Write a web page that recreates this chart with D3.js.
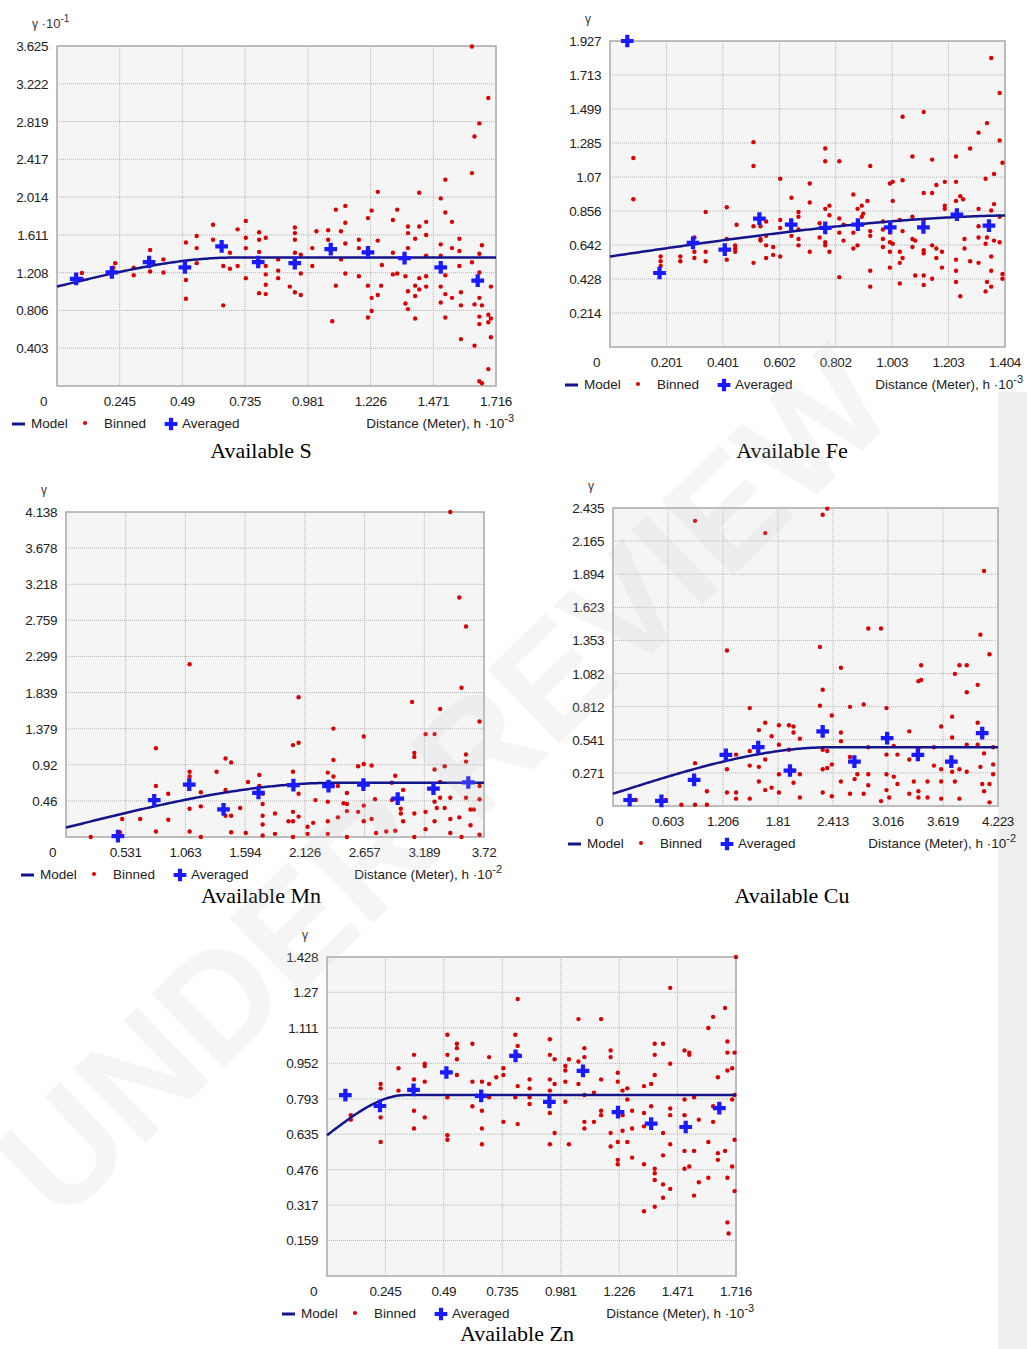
<!DOCTYPE html>
<html>
<head>
<meta charset="utf-8">
<script src="https://cdn.jsdelivr.net/npm/d3@7/dist/d3.min.js"></script>
<style>
body { margin: 0; background: #fff; }
svg text { font-family: "Liberation Sans", Arial, sans-serif; }
svg text.title { font-family: "Liberation Serif", "Times New Roman", serif; }
</style>
</head>
<body>
<svg id="chart" width="1027" height="1349"></svg>
<script>
// S panel (gamma x 10^-1)
var sTicks = ["0.403","0.806","1.208","1.611","2.014","2.417","2.819","3.222","3.625"];
var sXTicks = ["0.245","0.49","0.735","0.981","1.226","1.471","1.716"];
var sAveraged = [[0.075,1.141],[0.2145,1.212],[0.36,1.322],[0.50,1.265],[0.6435,1.488],[0.7865,1.322],[0.9295,1.311],[1.07,1.46],[1.2155,1.425],[1.3585,1.364],[1.50,1.265],[1.6445,1.123]];
var sBinned = [[0.0975,1.205],[0.0975,1.14],[0.2275,1.31],[0.22,1.26],[0.30,1.26],[0.30,1.18],[0.364,1.45],[0.364,1.22],[0.416,1.35],[0.416,1.21],[0.504,1.53],[0.504,1.13],[0.504,0.93],[0.546,1.60],[0.546,1.47],[0.546,1.31],[0.61,1.72],[0.61,1.56],[0.65,0.86],[0.65,1.28],[0.676,1.42],[0.676,1.25],[0.706,1.67],[0.706,1.28],[0.738,1.76],[0.738,1.58],[0.738,1.47],[0.738,1.15],[0.79,1.64],[0.79,1.56],[0.79,1.43],[0.816,1.58],[0.816,1.28],[0.816,1.19],[0.816,1.08],[0.79,0.99],[0.816,0.98],[0.8645,1.35],[0.8645,1.23],[0.8645,1.15],[0.91,1.06],[0.93,1.69],[0.93,1.63],[0.93,1.56],[0.93,1.42],[0.93,1.0],[0.953,0.97],[0.953,1.40],[0.953,1.20],[0.998,1.28],[0.998,1.47],[1.014,1.65],[1.06,1.66],[1.06,1.56],[1.076,0.69],[1.09,1.88],[1.09,1.07],[1.11,1.65],[1.11,1.35],[1.127,1.92],[1.127,1.74],[1.127,1.52],[1.127,1.20],[1.18,1.56],[1.18,1.47],[1.18,1.17],[1.2155,1.79],[1.2155,1.07],[1.2155,0.73],[1.23,1.87],[1.23,0.80],[1.23,0.94],[1.254,2.07],[1.254,1.55],[1.267,1.07],[1.254,0.97],[1.27,1.29],[1.313,1.77],[1.313,1.42],[1.313,1.19],[1.33,1.88],[1.33,1.20],[1.372,1.70],[1.372,1.63],[1.372,1.47],[1.362,1.17],[1.372,1.01],[1.362,0.88],[1.372,0.82],[1.40,1.57],[1.40,1.07],[1.40,0.72],[1.416,2.06],[1.416,1.70],[1.416,1.15],[1.416,1.03],[1.40,0.96],[1.443,1.75],[1.443,1.61],[1.443,1.39],[1.443,1.17],[1.443,1.06],[1.50,2.00],[1.518,2.20],[1.518,1.85],[1.50,1.51],[1.50,1.39],[1.50,1.06],[1.50,0.89],[1.518,1.18],[1.518,0.98],[1.518,0.73],[1.544,1.75],[1.544,1.47],[1.544,0.94],[1.573,1.57],[1.573,1.44],[1.573,1.28],[1.579,1.00],[1.579,0.86],[1.579,0.50],[1.622,3.62],[1.632,2.66],[1.651,2.80],[1.622,2.27],[1.622,1.32],[1.632,0.87],[1.632,0.43],[1.651,1.41],[1.651,1.21],[1.651,0.94],[1.651,0.74],[1.651,0.66],[1.651,0.05],[1.661,0.03],[1.661,1.50],[1.661,0.86],[1.686,3.07],[1.686,0.18],[1.686,0.76],[1.686,0.68],[1.696,1.06],[1.696,0.52],[1.696,0.72]];
var sModel = {nugget: 1.06, sill: 0.31, range: 0.7};

// Fe panel
var feTicks = ["0.214","0.428","0.642","0.856","1.07","1.285","1.499","1.713","1.927"];
var feXTicks = ["0.201","0.401","0.602","0.802","1.003","1.203","1.404"];
var feAveraged = [[0.0615,1.927],[0.176,0.466],[0.295,0.655],[0.408,0.613],[0.531,0.809],[0.644,0.771],[0.765,0.75],[0.881,0.771],[0.996,0.754],[1.114,0.754],[1.233,0.834],[1.347,0.764]];
var feBinned = [[0.083,1.19],[0.083,0.93],[0.18,0.57],[0.18,0.54],[0.18,0.51],[0.25,0.57],[0.25,0.54],[0.3,0.69],[0.3,0.6],[0.3,0.56],[0.34,0.85],[0.34,0.6],[0.34,0.54],[0.415,0.88],[0.415,0.68],[0.415,0.55],[0.445,0.64],[0.445,0.6],[0.445,0.62],[0.45,0.77],[0.51,1.29],[0.51,1.14],[0.51,0.76],[0.51,0.53],[0.535,0.76],[0.535,0.68],[0.535,0.67],[0.555,0.79],[0.555,0.7],[0.555,0.64],[0.555,0.56],[0.58,0.63],[0.58,0.58],[0.605,1.06],[0.605,0.8],[0.605,0.75],[0.605,0.57],[0.645,0.94],[0.645,0.7],[0.67,0.85],[0.67,0.82],[0.67,0.74],[0.67,0.68],[0.67,0.64],[0.71,1.03],[0.71,0.91],[0.71,0.6],[0.745,0.78],[0.745,0.69],[0.765,1.25],[0.765,1.17],[0.765,0.87],[0.765,0.66],[0.765,0.64],[0.78,0.89],[0.78,0.83],[0.78,0.6],[0.815,1.17],[0.815,0.81],[0.815,0.72],[0.815,0.44],[0.83,0.77],[0.83,0.67],[0.865,0.96],[0.865,0.72],[0.865,0.62],[0.88,0.87],[0.88,0.64],[0.895,0.89],[0.895,0.82],[0.9,0.84],[0.915,0.92],[0.925,1.14],[0.925,0.73],[0.925,0.7],[0.925,0.48],[0.925,0.38],[0.97,0.79],[0.97,0.74],[0.97,0.68],[0.97,0.63],[0.995,1.03],[0.995,0.72],[0.995,0.66],[0.995,0.6],[0.995,0.5],[1.005,1.04],[1.005,0.92],[1.005,0.65],[1.03,0.8],[1.03,0.6],[1.03,0.53],[1.03,0.4],[1.04,1.45],[1.04,1.05],[1.04,0.73],[1.04,0.56],[1.075,1.2],[1.075,0.82],[1.075,0.68],[1.075,0.63],[1.085,0.67],[1.085,0.45],[1.115,1.48],[1.115,0.97],[1.115,0.8],[1.115,0.61],[1.115,0.59],[1.115,0.45],[1.115,0.39],[1.145,1.18],[1.145,0.97],[1.145,0.64],[1.145,0.43],[1.16,1.02],[1.16,0.62],[1.16,0.56],[1.18,0.6],[1.18,0.5],[1.19,1.04],[1.19,0.89],[1.19,0.87],[1.23,1.2],[1.23,1.04],[1.23,0.92],[1.23,0.55],[1.23,0.48],[1.23,0.41],[1.245,0.95],[1.245,0.32],[1.255,0.93],[1.26,0.68],[1.26,0.62],[1.28,1.25],[1.28,0.54],[1.31,1.35],[1.31,0.87],[1.31,0.76],[1.31,0.69],[1.31,0.53],[1.335,1.06],[1.335,0.65],[1.335,0.35],[1.34,1.41],[1.34,0.69],[1.34,0.41],[1.355,1.82],[1.355,0.86],[1.355,0.57],[1.355,0.48],[1.355,0.38],[1.365,1.09],[1.365,0.9],[1.365,0.67],[1.385,1.6],[1.385,1.3],[1.385,0.82],[1.385,0.66],[1.395,1.16],[1.395,0.46],[1.395,0.43]];
var feModel = {nugget: 0.57, sill: 0.26, range: 1.5};

// Mn panel
var mnTicks = ["0.46","0.92","1.379","1.839","2.299","2.759","3.218","3.678","4.138"];
var mnXTicks = ["0.531","1.063","1.594","2.126","2.657","3.189","3.72"];
var mnAveraged = [[0.462,0.01],[0.785,0.468],[1.097,0.668],[1.402,0.353],[1.713,0.562],[2.024,0.66],[2.336,0.647],[2.647,0.668],[2.952,0.49],[3.27,0.617],[3.58,0.694]];
var mnBinned = [[0.22,0],[0.48,0.06],[0.5,0.23],[0.66,0.23],[0.8,1.13],[0.8,0.65],[0.8,0.07],[0.91,0.55],[0.91,0.22],[1.1,2.2],[1.1,0.83],[1.1,0.77],[1.1,0.36],[1.1,0.07],[1.2,0.57],[1.2,0.39],[1.2,0],[1.34,0.83],[1.42,1.0],[1.42,0.6],[1.42,0.27],[1.47,0.95],[1.47,0.27],[1.47,0.06],[1.55,0.37],[1.6,0.05],[1.62,0.7],[1.72,0.79],[1.72,0.65],[1.75,0.55],[1.75,0.42],[1.75,0.27],[1.75,0.16],[1.75,0.02],[1.86,0.3],[1.86,0.04],[1.98,0.2],[2.02,1.17],[2.02,0.83],[2.02,0.32],[2.02,0.2],[2.02,0],[2.07,1.78],[2.07,1.2],[2.07,0.55],[2.07,0.26],[2.15,0.13],[2.15,0.04],[2.2,0.18],[2.22,0.47],[2.33,0.82],[2.33,0.45],[2.33,0.2],[2.33,0.04],[2.38,1.38],[2.38,0.98],[2.38,0.77],[2.42,0.65],[2.42,0.25],[2.47,0.43],[2.5,0.56],[2.5,0.42],[2.5,0.33],[2.5,0.0],[2.6,0.9],[2.6,0.32],[2.65,1.28],[2.65,0.93],[2.65,0.4],[2.65,0.2],[2.72,0.91],[2.72,0.23],[2.75,0.48],[2.76,0.05],[2.85,0.07],[2.9,0.69],[2.9,0.47],[2.93,0.78],[2.93,0.08],[2.98,0.36],[2.98,0.3],[3.0,0.6],[3.0,0.2],[3.08,1.72],[3.1,1.07],[3.1,1.02],[3.1,0.3],[3.1,0.0],[3.2,1.31],[3.2,0.32],[3.2,0.1],[3.28,1.31],[3.28,0.86],[3.28,0.45],[3.28,0.2],[3.3,0.37],[3.33,1.63],[3.33,0.7],[3.33,0.5],[3.37,0.9],[3.37,0.37],[3.42,4.138],[3.42,0.5],[3.42,0.23],[3.42,0.05],[3.5,3.05],[3.5,0.25],[3.52,1.9],[3.52,0.0],[3.56,2.68],[3.56,1.05],[3.56,0.96],[3.56,0.5],[3.6,0.35],[3.6,0.15],[3.63,0.35],[3.68,1.47],[3.68,0.65],[3.68,0.48],[3.68,0.03]];
var mnModel = {nugget: 0.12, sill: 0.57, range: 2.4};

// Cu panel
var cuTicks = ["0.271","0.541","0.812","1.082","1.353","1.623","1.894","2.165","2.435"];
var cuXTicks = ["0.603","1.206","1.81","2.413","3.016","3.619","4.223"];
var cuAveraged = [[0.183,0.049],[0.531,0.041],[0.89,0.213],[1.238,0.418],[1.593,0.481],[1.941,0.29],[2.30,0.609],[2.648,0.363],[3.007,0.555],[3.344,0.418],[3.711,0.363],[4.05,0.596]];
var cuBinned = [[0.25,0.05],[0.58,0.05],[0.75,0.01],[0.9,2.33],[0.9,0.35],[0.9,0.01],[1.03,0.12],[1.03,0.01],[1.25,1.27],[1.25,0.3],[1.25,0.11],[1.35,0.42],[1.35,0.11],[1.35,0.06],[1.5,0.8],[1.5,0.45],[1.5,0.33],[1.5,0.06],[1.6,0.62],[1.6,0.32],[1.6,0.2],[1.67,2.23],[1.67,0.68],[1.67,0.38],[1.67,0.13],[1.74,0.57],[1.74,0.15],[1.82,0.66],[1.82,0.5],[1.82,0.26],[1.82,0.11],[1.93,0.66],[1.93,0.46],[1.98,0.65],[1.98,0.6],[1.98,0.29],[1.98,0.19],[2.05,0.55],[2.05,0.26],[2.05,0.07],[2.27,1.3],[2.27,0.82],[2.3,2.38],[2.3,0.95],[2.3,0.46],[2.3,0.3],[2.3,0.11],[2.35,2.43],[2.35,0.45],[2.35,0.31],[2.4,0.74],[2.4,0.34],[2.4,0.08],[2.5,1.13],[2.5,0.6],[2.5,0.53],[2.5,0.2],[2.6,0.81],[2.6,0.4],[2.6,0.1],[2.65,0.22],[2.68,0.26],[2.75,0.83],[2.75,0.1],[2.8,1.45],[2.8,0.48],[2.8,0.26],[2.8,0.17],[2.94,1.45],[2.94,0.04],[3.0,0.8],[3.0,0.42],[3.0,0.26],[3.0,0.13],[3.03,0.07],[3.08,0.49],[3.08,0.24],[3.12,0.42],[3.12,0.18],[3.25,0.61],[3.25,0.38],[3.25,0.1],[3.3,0.2],[3.35,1.02],[3.35,0.47],[3.35,0.12],[3.35,0.07],[3.38,1.15],[3.38,1.03],[3.45,0.2],[3.45,0.07],[3.52,0.48],[3.52,0.33],[3.6,0.65],[3.6,0.3],[3.6,0.2],[3.6,0.06],[3.72,0.73],[3.72,0.56],[3.72,0.28],[3.75,1.08],[3.75,0.2],[3.8,1.15],[3.8,0.3],[3.8,0.06],[3.88,1.15],[3.88,0.93],[3.88,0.5],[3.88,0.28],[4.0,0.99],[4.0,0.68],[4.0,0.5],[4.03,1.4],[4.03,0.32],[4.05,0.18],[4.07,1.92],[4.07,0.43],[4.07,0.12],[4.13,1.24],[4.13,0.18],[4.13,0.03],[4.17,0.48],[4.17,0.34],[4.17,0.26]];
var cuModel = {nugget: 0.1, sill: 0.38, range: 2.4};

// Zn panel
var znTicks = ["0.159","0.317","0.476","0.635","0.793","0.952","1.111","1.27","1.428"];
var znXTicks = ["0.245","0.49","0.735","0.981","1.226","1.471","1.716"];
var znAveraged = [[0.077,0.81],[0.222,0.761],[0.363,0.833],[0.501,0.911],[0.647,0.806],[0.791,0.985],[0.933,0.779],[1.074,0.918],[1.221,0.734],[1.36,0.682],[1.505,0.667],[1.646,0.751]];
var znBinned = [[0.1,0.72],[0.1,0.7],[0.225,0.86],[0.225,0.84],[0.225,0.71],[0.225,0.6],[0.3,0.93],[0.3,0.83],[0.365,0.99],[0.365,0.88],[0.365,0.74],[0.365,0.66],[0.41,0.95],[0.41,0.94],[0.41,0.87],[0.41,0.71],[0.505,1.08],[0.505,0.99],[0.505,0.8],[0.505,0.63],[0.505,0.61],[0.545,1.04],[0.545,1.02],[0.545,0.97],[0.545,0.9],[0.61,1.04],[0.61,0.87],[0.61,0.76],[0.65,0.87],[0.65,0.74],[0.65,0.66],[0.65,0.59],[0.68,0.98],[0.68,0.86],[0.68,0.8],[0.71,0.89],[0.74,0.93],[0.74,0.9],[0.74,0.69],[0.79,1.08],[0.79,0.8],[0.8,1.24],[0.8,1.03],[0.8,0.99],[0.8,0.85],[0.8,0.68],[0.85,0.88],[0.85,0.84],[0.85,0.8],[0.85,0.77],[0.935,1.06],[0.935,0.99],[0.935,0.88],[0.935,0.83],[0.935,0.73],[0.935,0.59],[0.955,0.97],[0.955,0.86],[0.955,0.64],[1.0,0.94],[1.0,0.92],[1.0,0.87],[1.0,0.78],[1.015,0.97],[1.015,0.59],[1.055,1.15],[1.055,0.96],[1.055,0.86],[1.08,1.02],[1.08,0.98],[1.08,0.81],[1.08,0.69],[1.08,0.66],[1.12,0.82],[1.12,0.69],[1.15,1.15],[1.15,0.88],[1.15,0.74],[1.15,0.72],[1.19,1.01],[1.19,0.98],[1.19,0.64],[1.19,0.58],[1.22,0.91],[1.22,0.87],[1.22,0.6],[1.22,0.52],[1.22,0.5],[1.24,0.83],[1.24,0.72],[1.24,0.65],[1.26,0.84],[1.26,0.79],[1.26,0.6],[1.28,0.74],[1.28,0.66],[1.28,0.53],[1.33,0.85],[1.33,0.73],[1.33,0.67],[1.33,0.5],[1.33,0.29],[1.36,0.86],[1.36,0.76],[1.375,1.04],[1.375,0.99],[1.375,0.9],[1.375,0.48],[1.375,0.46],[1.375,0.43],[1.375,0.31],[1.41,1.04],[1.41,0.64],[1.41,0.54],[1.41,0.41],[1.41,0.35],[1.44,1.29],[1.44,0.95],[1.44,0.75],[1.44,0.72],[1.44,0.59],[1.44,0.39],[1.5,1.01],[1.5,0.79],[1.5,0.72],[1.5,0.56],[1.5,0.48],[1.52,1.0],[1.52,0.99],[1.52,0.49],[1.54,0.8],[1.54,0.56],[1.54,0.36],[1.56,0.7],[1.56,0.42],[1.6,1.11],[1.6,0.6],[1.6,0.44],[1.62,1.16],[1.62,0.76],[1.62,0.69],[1.64,0.89],[1.64,0.55],[1.64,0.52],[1.67,1.2],[1.67,0.56],[1.68,1.05],[1.68,1.0],[1.68,0.92],[1.68,0.44],[1.68,0.24],[1.685,0.19],[1.7,0.93],[1.7,0.79],[1.7,0.49],[1.71,1.0],[1.71,0.81],[1.71,0.61],[1.71,0.38],[1.716,1.428]];
var znModel = {nugget: 0.63, sill: 0.18, range: 0.33};

var svg = d3.select("#chart");

// grey strip on the right
svg.append("rect").attr("x", 998).attr("y", 392).attr("width", 29).attr("height", 957).attr("fill", "#efefef");

//spherical model
function spherical(m, h) {
    if (h >= m.range) return m.nugget + m.sill;
    var r = h / m.range;
    return m.nugget + m.sill * (1.5 * r - 0.5 * r * r * r);
}

function panel(p) {
    var x = d3.scaleLinear().domain([0, +p.xTicks[p.xTicks.length - 1]]).range([p.left, p.right]);
    var y = d3.scaleLinear().domain([0, +p.yTicks[p.yTicks.length - 1]]).range([p.bottom, p.top]);
    var g = svg.append("g");

    g.append("rect").attr("x", p.left).attr("y", p.top)
        .attr("width", p.right - p.left).attr("height", p.bottom - p.top)
        .attr("fill", "#f5f5f5").attr("stroke", "#a8a8a8").attr("stroke-width", 1.5);

    // grid
    g.selectAll(".gy").data(p.yTicks.slice(0, -1)).enter().append("line")
        .attr("x1", p.left).attr("x2", p.right)
        .attr("y1", function (d) { return y(+d); }).attr("y2", function (d) { return y(+d); })
        .attr("stroke", "#b4b4b4").attr("stroke-dasharray", "1,1");
    g.selectAll(".gx").data(p.xTicks.slice(0, -1)).enter().append("line")
        .attr("y1", p.top).attr("y2", p.bottom)
        .attr("x1", function (d) { return x(+d); }).attr("x2", function (d) { return x(+d); })
        .attr("stroke", "#b4b4b4").attr("stroke-dasharray", "1,1");

    // tick labels
    g.selectAll(".ty").data(p.yTicks).enter().append("text")
        .attr("x", p.left - 9).attr("y", function (d) { return y(+d) + 5; })
        .attr("text-anchor", "end").attr("font-size", 13.5).attr("fill", "#222")
        .attr("letter-spacing", -0.4).text(function (d) { return d; });
    g.selectAll(".tx").data(p.xTicks).enter().append("text")
        .attr("x", function (d) { return x(+d); }).attr("y", p.bottom + 20)
        .attr("text-anchor", "middle").attr("font-size", 13.5).attr("fill", "#222")
        .attr("letter-spacing", -0.4).text(function (d) { return d; });
    g.append("text").attr("x", p.left - 17).attr("y", p.bottom + 20)
        .attr("font-size", 13.5).attr("fill", "#222").text("0");

    // y label
    var yl = g.append("text").attr("x", p.left - 25).attr("y", p.top - 18)
        .attr("font-size", 12).attr("fill", "#333").text("\u03b3");
    if (p.yExp) {
        yl.append("tspan").attr("font-size", 13).text(" \u00b710");
        yl.append("tspan").attr("font-size", 10).attr("dy", -6).text(p.yExp);
    }

    // binned
    g.selectAll(".b").data(p.binned).enter().append("circle")
        .attr("cx", function (d) { return x(d[0]); }).attr("cy", function (d) { return y(d[1]); })
        .attr("r", 2.2).attr("fill", "#d80000");

    // model
    var hs = d3.range(0, 201).map(function (i) { return x.domain()[1] * i / 200; });
    g.append("path").datum(hs)
        .attr("d", d3.line().x(function (h) { return x(h); }).y(function (h) { return y(spherical(p.model, h)); }))
        .attr("fill", "none").attr("stroke", "#14148c").attr("stroke-width", 2.5);

    // averaged
    var cross = d3.symbol().type(d3.symbolCross).size(90);
    g.selectAll(".a").data(p.averaged).enter().append("path")
        .attr("d", cross)
        .attr("transform", function (d) { return "translate(" + x(d[0]) + "," + y(d[1]) + ")"; })
        .attr("fill", "#1a1aff");

    // legend
    var ly = p.bottom + 42, lx = p.left - 45;
    g.append("line").attr("x1", lx).attr("x2", lx + 13).attr("y1", ly - 4).attr("y2", ly - 4)
        .attr("stroke", "#14148c").attr("stroke-width", 3);
    g.append("text").attr("x", lx + 19).attr("y", ly).attr("font-size", 13.5).attr("fill", "#222").text("Model");
    g.append("circle").attr("cx", lx + 73).attr("cy", ly - 5).attr("r", 2).attr("fill", "#d80000");
    g.append("text").attr("x", lx + 92).attr("y", ly).attr("font-size", 13.5).attr("fill", "#222").text("Binned");
    g.append("path").attr("d", cross).attr("transform", "translate(" + (lx + 159) + "," + (ly - 4) + ")").attr("fill", "#1a1aff");
    g.append("text").attr("x", lx + 170).attr("y", ly).attr("font-size", 13.5).attr("fill", "#222").text("Averaged");

    var xl = g.append("text").attr("x", p.right + 18).attr("y", ly).attr("text-anchor", "end")
        .attr("font-size", 13.5).attr("fill", "#222").text("Distance (Meter), h \u00b710");
    xl.append("tspan").attr("font-size", 11).attr("dy", -6).text(p.xExp);

    // title
    svg.append("text").attr("class", "title").attr("x", p.titleX).attr("y", p.titleY).attr("text-anchor", "middle")
        .attr("font-size", 22).attr("fill", "#000")
        .text(p.title);
}

panel({left: 57, top: 46, right: 496, bottom: 386, yTicks: sTicks, xTicks: sXTicks, binned: sBinned, averaged: sAveraged, model: sModel, yExp: "-1", xExp: "-3", title: "Available S", titleX: 261, titleY: 458});
panel({left: 610, top: 41, right: 1005, bottom: 347, yTicks: feTicks, xTicks: feXTicks, binned: feBinned, averaged: feAveraged, model: feModel, xExp: "-3", title: "Available Fe", titleX: 792, titleY: 458});
panel({left: 66, top: 512, right: 484, bottom: 837, yTicks: mnTicks, xTicks: mnXTicks, binned: mnBinned, averaged: mnAveraged, model: mnModel, xExp: "-2", title: "Available Mn", titleX: 261, titleY: 903});
panel({left: 613, top: 508, right: 998, bottom: 806, yTicks: cuTicks, xTicks: cuXTicks, binned: cuBinned, averaged: cuAveraged, model: cuModel, xExp: "-2", title: "Available Cu", titleX: 792, titleY: 903});
panel({left: 327, top: 957, right: 736, bottom: 1276, yTicks: znTicks, xTicks: znXTicks, binned: znBinned, averaged: znAveraged, model: znModel, xExp: "-3", title: "Available Zn", titleX: 517, titleY: 1341});

// watermark
svg.append("text").attr("transform", "translate(480,820) rotate(-44)")
    .attr("text-anchor", "middle").attr("font-size", 150).attr("font-weight", "bold")
    .attr("fill", "#c8c8c8").attr("opacity", 0.16).text("UNDER REVIEW");
</script>
</body>
</html>
